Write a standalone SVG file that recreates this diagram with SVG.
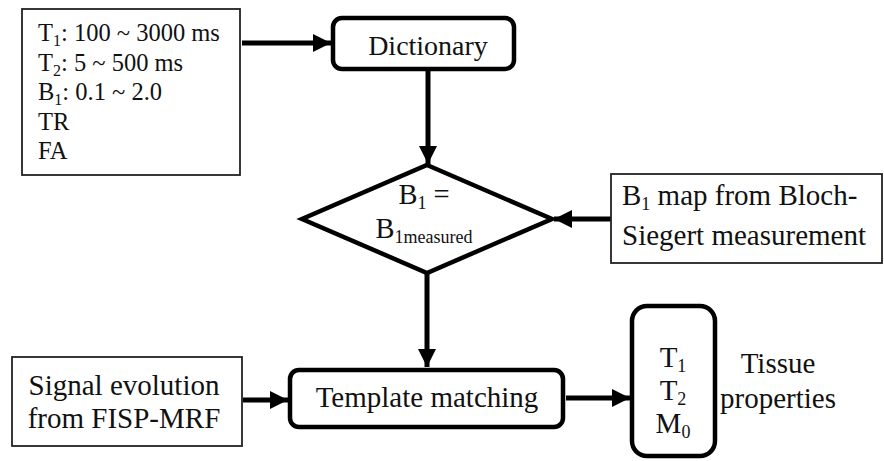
<svg xmlns="http://www.w3.org/2000/svg" width="884" height="461" viewBox="0 0 884 461">
<defs>
<marker id="ah" markerUnits="userSpaceOnUse" markerWidth="20" markerHeight="18" refX="18" refY="9" orient="auto">
<path d="M0,0 L18,9 L0,18 Z" fill="#000"/>
</marker>
<style>
text{font-family:"Liberation Serif","Times New Roman",serif;fill:#111;}
.thin{fill:#fff;stroke:#222;stroke-width:1.8;}
.thick{fill:#fff;stroke:#000;stroke-width:4.5;}
.conn{stroke:#000;stroke-width:5;fill:none;marker-end:url(#ah);}
.t22{font-size:24.5px;}
.t26{font-size:29px;}
.c{text-anchor:middle;}
</style>
</defs>
<rect width="884" height="461" fill="#fff"/>
<g id="connectors">
<line class="conn" x1="242" y1="43" x2="331" y2="43"/>
<line class="conn" x1="428" y1="70" x2="428" y2="164"/>
<line class="conn" x1="611" y1="219" x2="554" y2="219"/>
<line class="conn" x1="427" y1="274" x2="427" y2="367"/>
<line class="conn" x1="243" y1="400" x2="288" y2="400"/>
<line class="conn" x1="566" y1="398" x2="630" y2="398"/>
</g>
<g id="params">
<rect class="thin" x="22" y="9" width="218" height="166"/>
<text class="t22" x="38" y="41">T<tspan font-size="16" dy="5">1</tspan><tspan dy="-5">: 100 ~ 3000 ms</tspan></text>
<text class="t22" x="38" y="71">T<tspan font-size="16" dy="5">2</tspan><tspan dy="-5">: 5 ~ 500 ms</tspan></text>
<text class="t22" x="38" y="100">B<tspan font-size="16" dy="5">1</tspan><tspan dy="-5">: 0.1 ~ 2.0</tspan></text>
<text class="t22" x="38" y="130">TR</text>
<text class="t22" x="38" y="159">FA</text>
</g>
<g id="dictionary">
<rect class="thick" x="333" y="18" width="181" height="51" rx="9"/>
<text class="c" font-size="28" x="428" y="55">Dictionary</text>
</g>
<g id="decision">
<polygon class="thick" points="427,165 552,219 427,273 302,219"/>
<text class="c" font-size="28.5" x="424" y="204">B<tspan font-size="18" dy="5">1</tspan><tspan dy="-5"> =</tspan></text>
<text class="c" font-size="28.5" x="424" y="238">B<tspan font-size="18" dy="5">1measured</tspan></text>
</g>
<g id="b1map">
<rect class="thin" x="611" y="174" width="271" height="89"/>
<text class="t26" x="622" y="205">B<tspan font-size="18" dy="5">1</tspan><tspan dy="-5"> map from Bloch-</tspan></text>
<text class="t26" x="622" y="245">Siegert measurement</text>
</g>
<g id="signal">
<rect class="thin" x="12" y="357" width="230" height="89"/>
<text class="t26 c" x="124" y="395">Signal evolution</text>
<text class="t26 c" x="124" y="428">from FISP-MRF</text>
</g>
<g id="template">
<rect class="thick" x="290" y="370" width="273" height="57" rx="9"/>
<text class="t26 c" x="427" y="407">Template matching</text>
</g>
<g id="outputs">
<rect class="thick" x="632" y="306" width="83" height="150" rx="15"/>
<text class="t26 c" x="673" y="367">T<tspan font-size="18" dy="5">1</tspan></text>
<text class="t26 c" x="673" y="400">T<tspan font-size="18" dy="5">2</tspan></text>
<text class="t26 c" x="673" y="433">M<tspan font-size="18" dy="5">0</tspan></text>
</g>
<g id="tissue-label">
<text class="t26 c" x="778" y="373">Tissue</text>
<text class="t26 c" x="778" y="408">properties</text>
</g>
</svg>
